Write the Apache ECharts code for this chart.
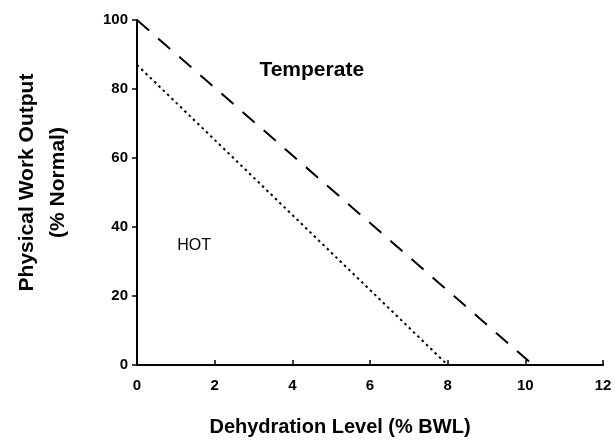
<!DOCTYPE html>
<html>
<head>
<meta charset="utf-8">
<script src="https://cdn.jsdelivr.net/npm/echarts@6/dist/echarts.min.js"></script>
<style>
  html, body { margin: 0; padding: 0; background: #fff; }
  #chart { width: 615px; height: 443px; }
</style>
</head>
<body>
<div id="chart"></div>
<script>
// temperate: dashed line, hot: dotted line
const temperateLine = [[0, 100], [10.2, 0]]
const hotLine = [[0, 87], [8, 0]]
const xTicks = [0, 2, 4, 6, 8, 10, 12]
const yTicks = [0, 20, 40, 60, 80, 100]
const labelTexts = [
  { name: 'Temperate', value: [4.5, 85.5] },
  { name: 'HOT', value: [1.47, 34.5] }
]

const font = '"Liberation Sans", Arial, sans-serif'
const chart = echarts.init(document.getElementById('chart'))

const option = {
  animation: false,
  backgroundColor: '#fff',
  grid: { left: 137, right: 12, top: 20, bottom: 78, outerBoundsMode: 'none' },
  xAxis: {
    type: 'value',
    min: xTicks[0],
    max: xTicks[xTicks.length - 1],
    interval: 2,
    name: 'Dehydration Level (% BWL)',
    nameLocation: 'middle',
    nameGap: 52,
    nameTextStyle: { fontFamily: font, fontWeight: 'bold', fontSize: 20, color: '#000', padding: [0, 60, 0, 0] },
    axisLine: { lineStyle: { color: '#000', width: 2 } },
    axisTick: { inside: true, length: 5, lineStyle: { color: '#000', width: 1.5 } },
    axisLabel: { fontFamily: font, fontWeight: 'bold', fontSize: 15, color: '#000', margin: 13 },
    splitLine: { show: false }
  },
  yAxis: {
    type: 'value',
    min: yTicks[0],
    max: yTicks[yTicks.length - 1],
    interval: 20,
    name: 'Physical Work Output\n(% Normal)',
    nameLocation: 'middle',
    nameRotate: 90,
    nameGap: 63,
    nameTextStyle: { fontFamily: font, fontWeight: 'bold', fontSize: 21, color: '#000', lineHeight: 31, padding: [0, 0, 0, 20] },
    axisLine: { show: true, lineStyle: { color: '#000', width: 2 } },
    axisTick: { show: true, length: 5, lineStyle: { color: '#000', width: 1.5 } },
    axisLabel: { fontFamily: font, fontWeight: 'bold', fontSize: 15, color: '#000', margin: 9 },
    splitLine: { show: false }
  },
  series: [
    {
      name: 'Temperate',
      type: 'line',
      data: temperateLine,
      symbol: 'none',
      lineStyle: { color: '#000', width: 2, type: [16, 12] }
    },
    {
      name: 'HOT',
      type: 'line',
      data: hotLine,
      symbol: 'none',
      lineStyle: { color: '#000', width: 2, type: [2.5, 3.5] }
    },
    {
      type: 'scatter',
      data: labelTexts,
      symbolSize: 0,
      silent: true,
      itemStyle: { opacity: 1 },
      label: {
        show: true,
        position: 'inside',
        formatter: p => p.name,
        fontFamily: font,
        fontWeight: 'bold',
        color: '#000',
        opacity: 1
      },
      emphasis: { disabled: true }
    }
  ]
}
option.series[2].data[0].label = { fontSize: 21 }
option.series[2].data[1].label = { fontSize: 16, fontWeight: 'normal' }

chart.setOption(option)
</script>
</body>
</html>
